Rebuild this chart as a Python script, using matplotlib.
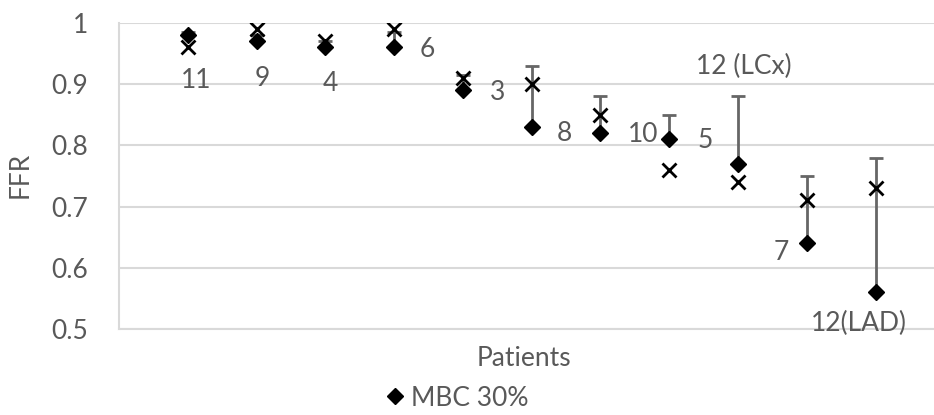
import matplotlib.pyplot as plt
import numpy as np

# patient order and labels
labels = ['11', '9', '4', '6', '3', '8', '10', '5', '12 (LCx)', '7', '12(LAD)']
mbc30 = [0.98, 0.97, 0.96, 0.96, 0.89, 0.83, 0.82, 0.81, 0.77, 0.64, 0.56]
ffr_x = [0.96, 0.99, 0.97, 0.99, 0.91, 0.90, 0.85, 0.76, 0.74, 0.71, 0.73]
upper = [0.985, 0.98, 0.97, 0.985, 0.915, 0.93, 0.88, 0.85, 0.88, 0.75, 0.78]

# label offsets in screen pixels (dx right, dy down) from the diamond
offsets = [(8, 45), (6, 37), (5, 36), (33, 2), (35, 2), (33, 6),
           (43, 1), (36, 1), (6, -97), (-26, 9), (-17, 31)]

plt.rcParams['font.family'] = ['Lato', 'DejaVu Sans']
grey = '#595959'
fs = 19

fig = plt.figure(figsize=(9.34, 4.15), dpi=100)
ax = fig.add_axes([119 / 934, 1 - 329 / 415, 1 - 119 / 934, (329 - 23) / 415])

x = np.arange(1, len(labels) + 1)
mbc = np.array(mbc30)
yerr = [np.zeros(len(mbc)), np.array(upper) - mbc]

ax.errorbar(x, mbc, yerr=yerr, fmt='none', ecolor='#666666', elinewidth=2,
            capsize=5, capthick=2, zorder=2)
ax.plot(x, ffr_x, 'x', color='black', markersize=10, markeredgewidth=2, zorder=3)
ax.plot(x, mbc30, 'D', color='black', markersize=8, zorder=4, label='MBC 30%')

for xi, yi, lab, (dx, dy) in zip(x, mbc30, labels, offsets):
    ax.annotate(lab, (xi, yi), xytext=(dx, -dy), textcoords='offset pixels',
                ha='center', va='center', fontsize=fs, color=grey)

ax.set_xlim(0, 11.85)
ax.set_ylim(0.5, 1.0)
ax.set_yticks([0.5, 0.6, 0.7, 0.8, 0.9, 1.0])
ax.set_yticklabels(['0.5', '0.6', '0.7', '0.8', '0.9', '1'])
ax.set_xticks([])
ax.grid(axis='y', color='#d9d9d9', linewidth=1.5)
ax.set_axisbelow(True)
for side in ['top', 'right']:
    ax.spines[side].set_visible(False)
for side in ['left', 'bottom']:
    ax.spines[side].set_color('#d9d9d9')
    ax.spines[side].set_linewidth(1.5)
ax.tick_params(axis='y', length=0, labelsize=fs, labelcolor=grey, pad=22)

fig.text(20 / 934, 1 - 175 / 415, 'FFR', rotation=90, ha='center', va='center',
         fontsize=fs, color=grey)
fig.text(524 / 934, 1 - 358 / 415, 'Patients', ha='center', va='center',
         fontsize=fs, color=grey)

leg = fig.legend(loc='center', bbox_to_anchor=(455 / 934, 1 - 398 / 415),
                 frameon=False, fontsize=fs, handletextpad=0.1,
                 handlelength=1.0, labelcolor=grey)

fig.savefig('out.png', dpi=100)
